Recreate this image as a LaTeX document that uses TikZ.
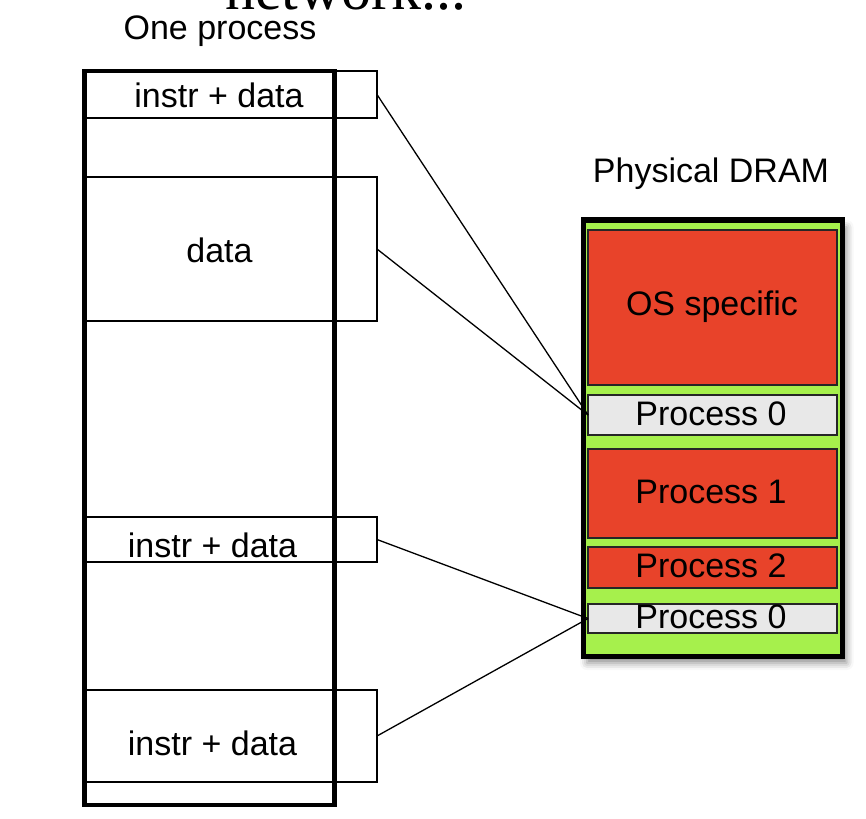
\documentclass[tikz,border=0pt]{standalone}
\usepackage{fontspec}
\setmainfont{Liberation Sans}
\newfontfamily\serifnet{Liberation Serif}
\usetikzlibrary{shadows.blur}
\definecolor{dramgreen}{HTML}{A6F04C}
\definecolor{procred}{HTML}{E8432A}
\definecolor{procgray}{HTML}{E8E8E8}
\begin{document}
\begin{tikzpicture}[x=1pt,y=-1pt,
  every node/.style={inner sep=0pt, outer sep=0pt},
  lbl/.style={font=\fontsize{34}{40}\selectfont, anchor=base},
  seg/.style={draw, line width=1.4pt, anchor=north west, minimum width=292pt},
  bigbox/.style={draw, line width=4.6pt, anchor=north west},
  dram/.style={draw, line width=5pt, fill=dramgreen, anchor=north west,
    blur shadow={shadow xshift=4pt, shadow yshift=-7pt, shadow blur radius=7pt, shadow opacity=45}},
  redbox/.style={draw=black!85, line width=1.3pt, fill=procred, anchor=north west, minimum width=249pt},
  graybox/.style={draw=black!85, line width=1.3pt, fill=procgray, anchor=north west, minimum width=249pt},
  conn/.style={draw, line width=1.3pt}
]
\useasboundingbox (0,0) rectangle (866,818);
\clip (0,0) rectangle (866,818);

% cut-off title
\node[font=\serifnet\fontsize{60}{70}\selectfont, anchor=base west] (net) at (225,10) {network...};

% left: one process
\node[lbl] (onep) at (220,40) {One process};

\node[seg, minimum height=47pt] (s1) at (85,71) {};
\node[seg, minimum height=144pt] (s2) at (85,177) {};
\node[seg, minimum height=45pt] (s3) at (85,517) {};
\node[seg, minimum height=92pt] (s4) at (85,690) {};

\node[bigbox, minimum width=250pt, minimum height=734pt] (big) at (84.5,71) {};

\node[lbl] (t1) at (219,108) {instr + data};
\node[lbl] (t2) at (219.5,262) {data};
\node[lbl] (t3) at (212.5,557) {instr + data};
\node[lbl] (t4) at (212.5,755) {instr + data};

% right: physical DRAM
\node[lbl] (pdram) at (711,183) {Physical DRAM};
\node[dram, minimum width=259.5pt, minimum height=436pt] (dram) at (583,220) {};

\node[redbox, minimum height=155pt] (os) at (588,230) {};
\node[graybox, minimum height=40pt] (p0a) at (588,395) {};
\node[redbox, minimum height=89pt] (p1) at (588,449) {};
\node[redbox, minimum height=41pt] (p2) at (588,547) {};
\node[graybox, minimum height=29pt] (p0b) at (588,604) {};

\node[lbl] (tos) at (712,315) {OS specific};
\node[lbl] (tp0a) at (711,425) {Process 0};
\node[lbl] (tp1) at (711,503) {Process 1};
\node[lbl] (tp2) at (711,577) {Process 2};
\node[lbl] (tp0b) at (711,628) {Process 0};

% connectors
\draw[conn] (s1.east) -- (p0a.west);
\draw[conn] (s2.east) -- (p0a.west);
\draw[conn] (s3.east) -- (p0b.west);
\draw[conn] (s4.east) -- (p0b.west);
\end{tikzpicture}
\end{document}
